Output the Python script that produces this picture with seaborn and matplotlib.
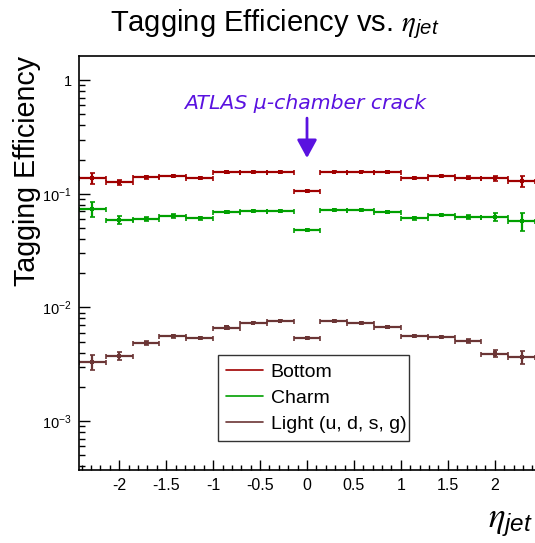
import numpy as np
import pandas as pd
import matplotlib
matplotlib.use("Agg")
import matplotlib.pyplot as plt
from matplotlib.lines import Line2D
from matplotlib.ticker import FixedLocator, FuncFormatter, LogLocator, MultipleLocator
import seaborn as sns

# ---- data ----
eta_edges = [-2.4286, -2.1429, -1.8571, -1.5714, -1.2857, -1.0, -0.7143, -0.4286, -0.1429,
             0.1429, 0.4286, 0.7143, 1.0, 1.2857, 1.5714, 1.8571, 2.1429, 2.4286]

eff_bottom = [0.1365, 0.1267, 0.1394, 0.144, 0.1365, 0.154, 0.155, 0.155, 0.1056,
              0.156, 0.156, 0.155, 0.1365, 0.144, 0.138, 0.137, 0.1285]
err_bottom = [0.0145, 0.0066, 0.0043, 0.003, 0.003, 0.0022, 0.0022, 0.0022, 0.0015,
              0.0022, 0.0022, 0.0022, 0.003, 0.003, 0.0043, 0.0066, 0.0145]

eff_charm = [0.0733, 0.0587, 0.0603, 0.0637, 0.0607, 0.069, 0.070, 0.071, 0.0476,
             0.0719, 0.0719, 0.0695, 0.0607, 0.065, 0.0624, 0.0624, 0.0572]
err_charm = [0.0108, 0.0049, 0.0025, 0.002, 0.0014, 0.0014, 0.0014, 0.0014, 0.001,
             0.0014, 0.0014, 0.0014, 0.0014, 0.0014, 0.0026, 0.0052, 0.0101]

eff_light = [0.00329, 0.00374, 0.00486, 0.00557, 0.00538, 0.00664, 0.00734, 0.00764, 0.00535,
             0.00759, 0.00724, 0.00668, 0.00557, 0.00546, 0.00506, 0.00392, 0.00366]
err_light = [0.00048, 0.00027, 0.0002, 0.00017, 0.00013, 0.00013, 0.00013, 0.00013, 0.00012,
             0.00013, 0.00013, 0.00013, 0.00013, 0.00013, 0.0002, 0.00029, 0.00047]

flavours = ["Bottom", "Charm", "Light (u, d, s, g)"]
colors = {"Bottom": "#a00000", "Charm": "#00a000", "Light (u, d, s, g)": "#6b3535"}

x_ticks = [-2, -1.5, -1, -0.5, 0, 0.5, 1, 1.5, 2]
annotation = "ATLAS \u03bc-chamber crack"

# ---- build table ----
edges = np.array(eta_edges)
centers = 0.5 * (edges[:-1] + edges[1:])
halfw = 0.5 * (edges[1:] - edges[:-1])
rows = []
for name, eff, err in [("Bottom", eff_bottom, err_bottom),
                       ("Charm", eff_charm, err_charm),
                       ("Light (u, d, s, g)", eff_light, err_light)]:
    for c, w, e, r in zip(centers, halfw, eff, err):
        rows.append({"eta": c, "hw": w, "eff": e, "err": r, "flavour": name})
df = pd.DataFrame(rows)

sns.set_theme(style="ticks")
plt.rcParams["font.family"] = ["Liberation Sans", "DejaVu Sans"]
plt.rcParams["text.color"] = "black"
plt.rcParams["axes.labelcolor"] = "black"
plt.rcParams["axes.unicode_minus"] = False
plt.rcParams["mathtext.fontset"] = "custom"
plt.rcParams["mathtext.rm"] = "Liberation Sans"
plt.rcParams["mathtext.it"] = "STIXGeneral:italic"
plt.rcParams["mathtext.sf"] = "Liberation Sans:italic"

fig = plt.figure(figsize=(5.35, 5.43), dpi=100)
ax = fig.add_axes([79 / 535, 1 - 470 / 543, 456 / 535, 414 / 543])

for name in flavours:
    sub = df[df["flavour"] == name]
    ax.errorbar(sub["eta"], sub["eff"], xerr=sub["hw"], yerr=sub["err"], fmt="none",
                ecolor=colors[name], elinewidth=1.6, capsize=1.8, capthick=1.2, zorder=2)
sns.scatterplot(data=df, x="eta", y="eff", hue="flavour", palette=colors, marker="s",
                s=9, linewidth=0, legend=False, ax=ax, zorder=3)

ax.set_yscale("log")
ax.set_xlim(eta_edges[0], eta_edges[-1])
ax.set_ylim(3.7e-4, 1.63)
ax.set_xlabel("")
ax.set_ylabel("")

ax.xaxis.set_major_locator(FixedLocator(x_ticks))
ax.xaxis.set_major_formatter(FuncFormatter(lambda v, p: "%g" % v))
ax.xaxis.set_minor_locator(MultipleLocator(0.1))
ax.yaxis.set_major_locator(LogLocator(base=10, numticks=10))
ax.yaxis.set_minor_locator(LogLocator(base=10, subs=np.arange(2, 10), numticks=20))

def yfmt(v, p):
    k = int(round(np.log10(v)))
    if k == 0:
        return "1"
    return r"$10^{%d}$" % k
ax.yaxis.set_major_formatter(FuncFormatter(yfmt))

ax.tick_params(axis="both", which="both", direction="in", colors="black")
ax.tick_params(axis="x", which="major", length=7, width=1, pad=6, labelsize=11.5)
ax.tick_params(axis="x", which="minor", length=3.5, width=1)
ax.tick_params(axis="y", which="major", length=8, width=1, pad=5, labelsize=10.5)
ax.tick_params(axis="y", which="minor", length=4, width=1)
ax.tick_params(top=False, right=False, which="both")
for s in ["left", "bottom", "top"]:
    ax.spines[s].set_color("black")
    ax.spines[s].set_linewidth(1.2)
ax.spines["right"].set_visible(False)

# annotation
purple = "#5a12e0"
ax.text(-0.02, 0.62, annotation, color=purple, style="italic", fontsize=14.7,
        ha="center", va="center", family=["DejaVu Sans"])
ax.annotate("", xy=(0, 0.206), xytext=(0, 0.463),
            arrowprops=dict(arrowstyle="-|>,head_width=0.3,head_length=0.55",
                            color=purple, lw=2, shrinkA=0, shrinkB=0, mutation_scale=20))

# legend
handles = [Line2D([0], [0], color=colors[n], lw=1.2) for n in flavours]
leg = ax.legend(handles, flavours, loc="lower left",
                bbox_to_anchor=(0.305, 0.070, 0.419, 0.213), mode="expand",
                fontsize=14, frameon=True, fancybox=False, borderaxespad=0,
                handlelength=1.9, handletextpad=0.4, labelspacing=0.45,
                borderpad=0.4)
leg.get_frame().set_edgecolor("black")
leg.get_frame().set_linewidth(1.0)
for t in leg.get_texts():
    t.set_color("black")

# titles
fig.text(275 / 535, 1 - 31 / 543, r"Tagging Efficiency vs. $\eta_{\mathsf{jet}}$",
         ha="center", va="baseline", fontsize=21, color="black")
fig.text(27 / 535, 1 - 171 / 543, "Tagging Efficiency", rotation=90,
         ha="center", va="center", fontsize=20.6, color="black")
fig.text(533 / 535, 1 - 527 / 543, r"$\eta_{\mathsf{jet}}$", ha="right",
         va="baseline", fontsize=25, color="black")

fig.savefig("out.png", dpi=100)
